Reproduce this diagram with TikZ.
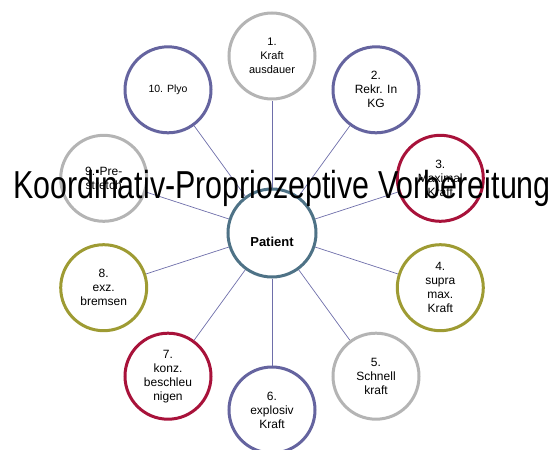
\documentclass[tikz,border=0pt]{standalone}
\usepackage{fontspec}
\setmainfont{Liberation Sans}
\usetikzlibrary{backgrounds}
\definecolor{cgray}{HTML}{B4B4B4}
\definecolor{cpurple}{HTML}{65649F}
\definecolor{ccrimson}{HTML}{A8123A}
\definecolor{colive}{HTML}{9E9B33}
\definecolor{cslate}{HTML}{4E7286}
\definecolor{cline}{HTML}{6E6EAA}
\tikzset{
  outer/.style={circle, draw, line width=3pt, fill=white, minimum size=86pt, inner sep=0pt, align=center,
    font=\fontsize{12}{14}\selectfont},
  center/.style={circle, draw=cslate, line width=3pt, fill=white, minimum size=88pt, inner sep=0pt},
  conn/.style={draw=cline, line width=0.7pt},
}
\begin{document}
\begin{tikzpicture}[x=1pt,y=-1pt]
\useasboundingbox (0,0) rectangle (558,450);
\node[center] (P) at (272,233) {};
\node[font=\fontsize{13}{15}\selectfont\bfseries] (ptext) at (272,242) {Patient};
\node[outer, draw=cgray, font=\fontsize{11}{14}\selectfont] (n1) at (272,56) {1.\\Kraft\\ausdauer};
\node[outer, draw=cpurple] (n2) at (376,89.8) {2.\\Rekr. In\\KG};
\node[outer, draw=ccrimson] (n3) at (440.3,178.3) {3.\\Maximal\\Kraft};
\node[outer, draw=colive] (n4) at (440.3,287.7) {4.\\supra\\max.\\Kraft};
\node[outer, draw=cgray] (n5) at (376,376.2) {5.\\Schnell\\kraft};
\node[outer, draw=cpurple] (n6) at (272,410) {6.\\explosiv\\Kraft};
\node[outer, draw=ccrimson] (n7) at (168,376.2) {7.\\konz.\\beschleu\\nigen};
\node[outer, draw=colive] (n8) at (103.7,287.7) {8.\\exz.\\bremsen};
\node[outer, draw=cgray] (n9) at (103.7,178.3) {9. Pre-\\stretch};
\node[outer, draw=cpurple, font=\fontsize{10.5}{13}\selectfont] (n10) at (168,89.8) {10. Plyo};
\begin{scope}[on background layer]
\foreach \i in {1,...,10} { \draw[conn] (P) -- (n\i); }
\end{scope}
\node[font=\fontsize{39}{42}\selectfont, inner sep=0pt, anchor=base] (title) at (282,198)
  {\scalebox{0.78}[1]{Koordinativ-Propriozeptive Vorbereitung}};
\end{tikzpicture}
\end{document}
